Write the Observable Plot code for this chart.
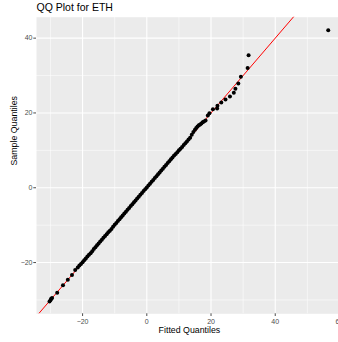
<!DOCTYPE html>
<html>
<head>
<meta charset="utf-8">
<script src="https://cdn.jsdelivr.net/npm/d3@7"></script>
<script src="https://cdn.jsdelivr.net/npm/@observablehq/plot@0.6"></script>
<style>
  html, body { margin: 0; padding: 0; background: #ffffff; overflow: hidden; }
  #chart svg { display: block; }
</style>
</head>
<body>
<div id="chart"></div>
<script>
// ---- data ----
const title = "QQ Plot for ETH";
const xLabel = "Fitted Quantiles";
const yLabel = "Sample Quantiles";

const xMajorTicks = [-20, 0, 20, 40, 60];
const xMinorTicks = [-30, -10, 10, 30, 50];
const yMajorTicks = [-20, 0, 20, 40];
const yMinorTicks = [-30, -10, 10, 30];

// reference line y = intercept + slope * x
const refSlope = 1;
const refIntercept = 0;

// fitted (theoretical) quantiles
const fitted = [
  -30.3, -30.0, -29.8, -29.5, -27.9, -26.1, -24.6, -23.3, -22.3, -21.5, -21.0,
  -20.5, -20.0, -19.5, -19.0, -18.5, -18.0, -17.5, -17.0, -16.5, -16.0,
  -15.5, -15.0, -14.5, -14.0, -13.5, -13.0, -12.5, -12.0, -11.5, -11.0,
  -10.5, -10.0, -9.5, -9.0, -8.5, -8.0, -7.5, -7.0, -6.5, -6.0,
  -5.5, -5.0, -4.5, -4.0, -3.5, -3.0, -2.5, -2.0, -1.5, -1.0,
  -0.5, 0.0, 0.5, 1.0, 1.5, 2.0, 2.5, 3.0, 3.5, 4.0,
  4.5, 5.0, 5.5, 6.0, 6.5, 7.0, 7.5, 8.0, 8.5, 9.0,
  9.5, 10.0, 10.5, 11.0, 11.5, 12.0, 12.5, 13.0, 13.5,
  14.0, 14.5, 15.0, 15.4, 15.8, 16.2, 16.6, 17.0, 17.4, 17.8, 18.3,
  19.0, 19.5, 20.6, 21.9, 22.0, 23.2, 24.5, 25.9, 27.1, 27.6, 28.5,
  29.3, 31.4, 31.7, 56.5
];
// sample (observed) quantiles
const sample = [
  -30.4, -30.1, -29.7, -29.5, -28.1, -26.1, -24.6, -23.3, -22.0, -21.3, -20.8,
  -20.4, -19.9, -19.4, -18.9, -18.4, -17.9, -17.5, -17.0, -16.4, -15.9,
  -15.4, -14.9, -14.4, -13.9, -13.4, -12.9, -12.4, -11.9, -11.5, -11.0,
  -10.4, -9.9, -9.4, -8.9, -8.4, -7.9, -7.4, -6.9, -6.4, -5.9,
  -5.4, -4.9, -4.4, -3.9, -3.4, -2.9, -2.4, -1.9, -1.4, -0.9,
  -0.4, 0.1, 0.6, 1.1, 1.6, 2.1, 2.6, 3.1, 3.6, 4.1,
  4.6, 5.1, 5.6, 6.1, 6.6, 7.1, 7.6, 8.1, 8.6, 9.0,
  9.5, 10.0, 10.4, 10.9, 11.4, 11.9, 12.4, 12.9, 13.4,
  14.2, 14.9, 15.5, 16.0, 16.4, 16.7, 16.9, 17.2, 17.5, 17.7, 18.0,
  19.3, 19.9, 21.0, 21.2, 21.9, 22.8, 23.6, 24.4, 25.4, 26.5, 27.9,
  29.7, 32.0, 35.4, 42.1
];

// ---- build ----
const points = fitted.map((f, i) => ({fitted: f, sample: sample[i]}));
const xDomain = [-34.35, 59.7];
const yDomain = [-33.7, 45.6];
const refLine = xDomain.map(x => ({x, y: refIntercept + refSlope * x}));

const font = "'Liberation Sans', Arial, Helvetica, sans-serif";

const chart = Plot.plot({
  width: 338,
  height: 342,
  marginLeft: 36,
  marginRight: 0,
  marginTop: 16.7,
  marginBottom: 28.7,
  style: {fontFamily: font, background: "#ffffff", overflow: "hidden"},
  x: {domain: xDomain},
  y: {domain: yDomain},
  marks: [
    Plot.frame({fill: "#ebebeb", stroke: null}),
    Plot.ruleX(xMinorTicks, {stroke: "#ffffff", strokeWidth: 0.55}),
    Plot.ruleY(yMinorTicks, {stroke: "#ffffff", strokeWidth: 0.55}),
    Plot.ruleX(xMajorTicks, {stroke: "#ffffff", strokeWidth: 1.1}),
    Plot.ruleY(yMajorTicks, {stroke: "#ffffff", strokeWidth: 1.1}),
    Plot.axisX(xMajorTicks, {tickSize: 2.7, tickPadding: 2.2, fontSize: 7, color: "#4d4d4d", label: null}),
    Plot.axisY(yMajorTicks, {tickSize: 2.7, tickPadding: 1.3, fontSize: 7, color: "#4d4d4d", label: null}),
    Plot.line(refLine, {x: "x", y: "y", stroke: "#ff0000", strokeWidth: 1, clip: true}),
    Plot.dot(points, {x: "fitted", y: "sample", r: 2, fill: "#000000", stroke: null, clip: true}),
    Plot.text([title], {frameAnchor: "top-left", lineAnchor: "middle", textAnchor: "start", dy: -9.8, fontSize: 10.5, fill: "#000000"}),
    Plot.text([xLabel], {frameAnchor: "bottom", lineAnchor: "middle", dx: 1.9, dy: 15.9, fontSize: 8.8, fill: "#000000"}),
    Plot.text([yLabel], {frameAnchor: "left", lineAnchor: "middle", rotate: -90, dx: -22.8, fontSize: 8.8, fill: "#000000"})
  ]
});
document.getElementById("chart").appendChild(chart);
</script>
</body>
</html>
